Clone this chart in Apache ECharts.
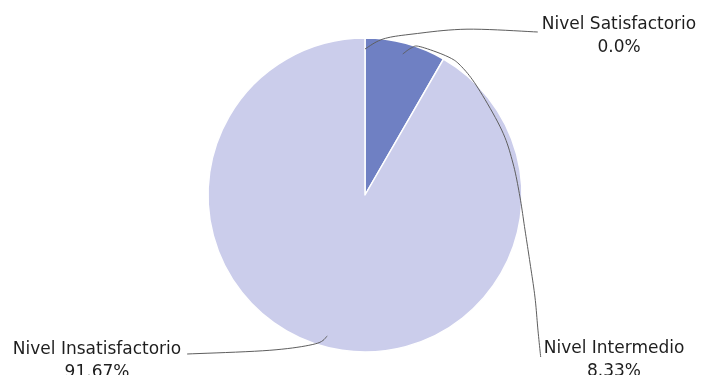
<!DOCTYPE html>
<html><head><meta charset="utf-8">
<script src="https://cdn.jsdelivr.net/npm/echarts@6/dist/echarts.min.js"></script>
<style>html,body{margin:0;padding:0;background:#fff}#c{width:701px;height:375px}</style>
</head><body><div id="c"></div>
<script>
// ---- data ----
const categories = ['Nivel Satisfactorio', 'Nivel Intermedio', 'Nivel Insatisfactorio'];
const values = [0.0, 8.33, 91.67];
const colors = ['#5d6db8', '#6f80c3', '#cbcdeb'];

// ---- layout ----
const CX = 365, CY = 195, R = 157;
const labelCenters = [[619, 36], [614, 360], [97, 361]];
// label line waypoints, polar: [angle clockwise from 12 o'clock (deg), radius factor]
const lineWaypoints = [
  [[6.6, 1.0], [16.6, 1.07], [31.6, 1.24]],
  [[17.6, 0.984], [20.4, 1.008], [31.0, 1.027], [37.0, 1.023], [46.6, 0.991], [64.6, 0.964], [77.8, 0.964],
   [90.7, 0.987], [102.3, 1.043], [112.4, 1.137], [121.0, 1.263], [128.0, 1.398]],
  [[198.5, 1.0], [211.5, 1.16]]
];

function polar(angDeg, rf) {
  const a = angDeg * Math.PI / 180;
  return [CX + R * rf * Math.sin(a), CY - R * rf * Math.cos(a)];
}
const total = values.reduce((s, v) => s + v, 0);
const midAngles = [];
{ let acc = 0; values.forEach(v => { midAngles.push((acc + v / 2) / total * 360); acc += v; }); }

function fmtPct(v) { return Number.isInteger(v) ? v.toFixed(1) : String(v); }

// Catmull-Rom smoothing of a polyline (label-line geometry only)
function smoothPath(pts, steps) {
  const out = [pts[0]];
  for (let i = 0; i < pts.length - 1; i++) {
    const p0 = pts[Math.max(0, i - 1)], p1 = pts[i], p2 = pts[i + 1], p3 = pts[Math.min(pts.length - 1, i + 2)];
    for (let s = 1; s <= steps; s++) {
      const t = s / steps, t2 = t * t, t3 = t2 * t;
      const f = k => 0.5 * ((2 * p1[k]) + (-p0[k] + p2[k]) * t + (2 * p0[k] - 5 * p1[k] + 4 * p2[k] - p3[k]) * t2 + (-p0[k] + 3 * p1[k] - 3 * p2[k] + p3[k]) * t3);
      out.push([f(0), f(1)]);
    }
  }
  return out;
}

const pieData = categories.map((n, i) => ({ name: n, value: values[i], itemStyle: { color: colors[i] } }));

const chart = echarts.init(document.getElementById('c'), null, {renderer: 'canvas'});
chart.setOption({
  animation: false,
  backgroundColor: '#ffffff',
  series: [{
    type: 'pie',
    z: 2,
    center: [CX, CY],
    radius: R,
    startAngle: 90,
    clockwise: true,
    silent: true,
    data: pieData,
    itemStyle: { borderColor: '#ffffff', borderWidth: 1.5 },
    label: { show: false },
    labelLine: { show: false }
  }, {
    type: 'pie',
    z: 5,
    center: [CX, CY],
    radius: R,
    startAngle: 90,
    clockwise: true,
    silent: true,
    avoidLabelOverlap: false,
    data: categories.map((n, i) => ({ name: n, value: values[i] })),
    itemStyle: { color: 'rgba(0,0,0,0)', borderWidth: 0 },
    label: {
      show: true,
      position: 'outside',
      formatter: p => p.name + '\n' + fmtPct(p.value) + '%',
      fontFamily: 'DejaVu Sans',
      fontSize: 17,
      lineHeight: 23,
      color: '#1e1e1e'
    },
    labelLine: {
      show: true,
      smooth: false,
      lineStyle: { color: '#5e5e5e', width: 1, opacity: 1 }
    },
    labelLayout: function (params) {
      const i = params.dataIndex;
      const [lx, ly] = labelCenters[i];
      const w = params.labelRect.width;
      const S = polar(midAngles[i], 0.93);
      let E;
      if (i === 0) E = [lx - w / 2 - 4, ly - 4];
      else if (i === 1) E = [lx - w / 2 - 3, ly - 3];
      else E = [lx + w / 2 + 6, ly - 7];
      const pts = [S].concat(lineWaypoints[i].map(p => polar(p[0], p[1]))).concat([E]);
      return {
        x: lx, y: ly, align: 'center', verticalAlign: 'middle',
        labelLinePoints: smoothPath(pts, 10)
      };
    }
  }]
});
</script>
</body></html>
